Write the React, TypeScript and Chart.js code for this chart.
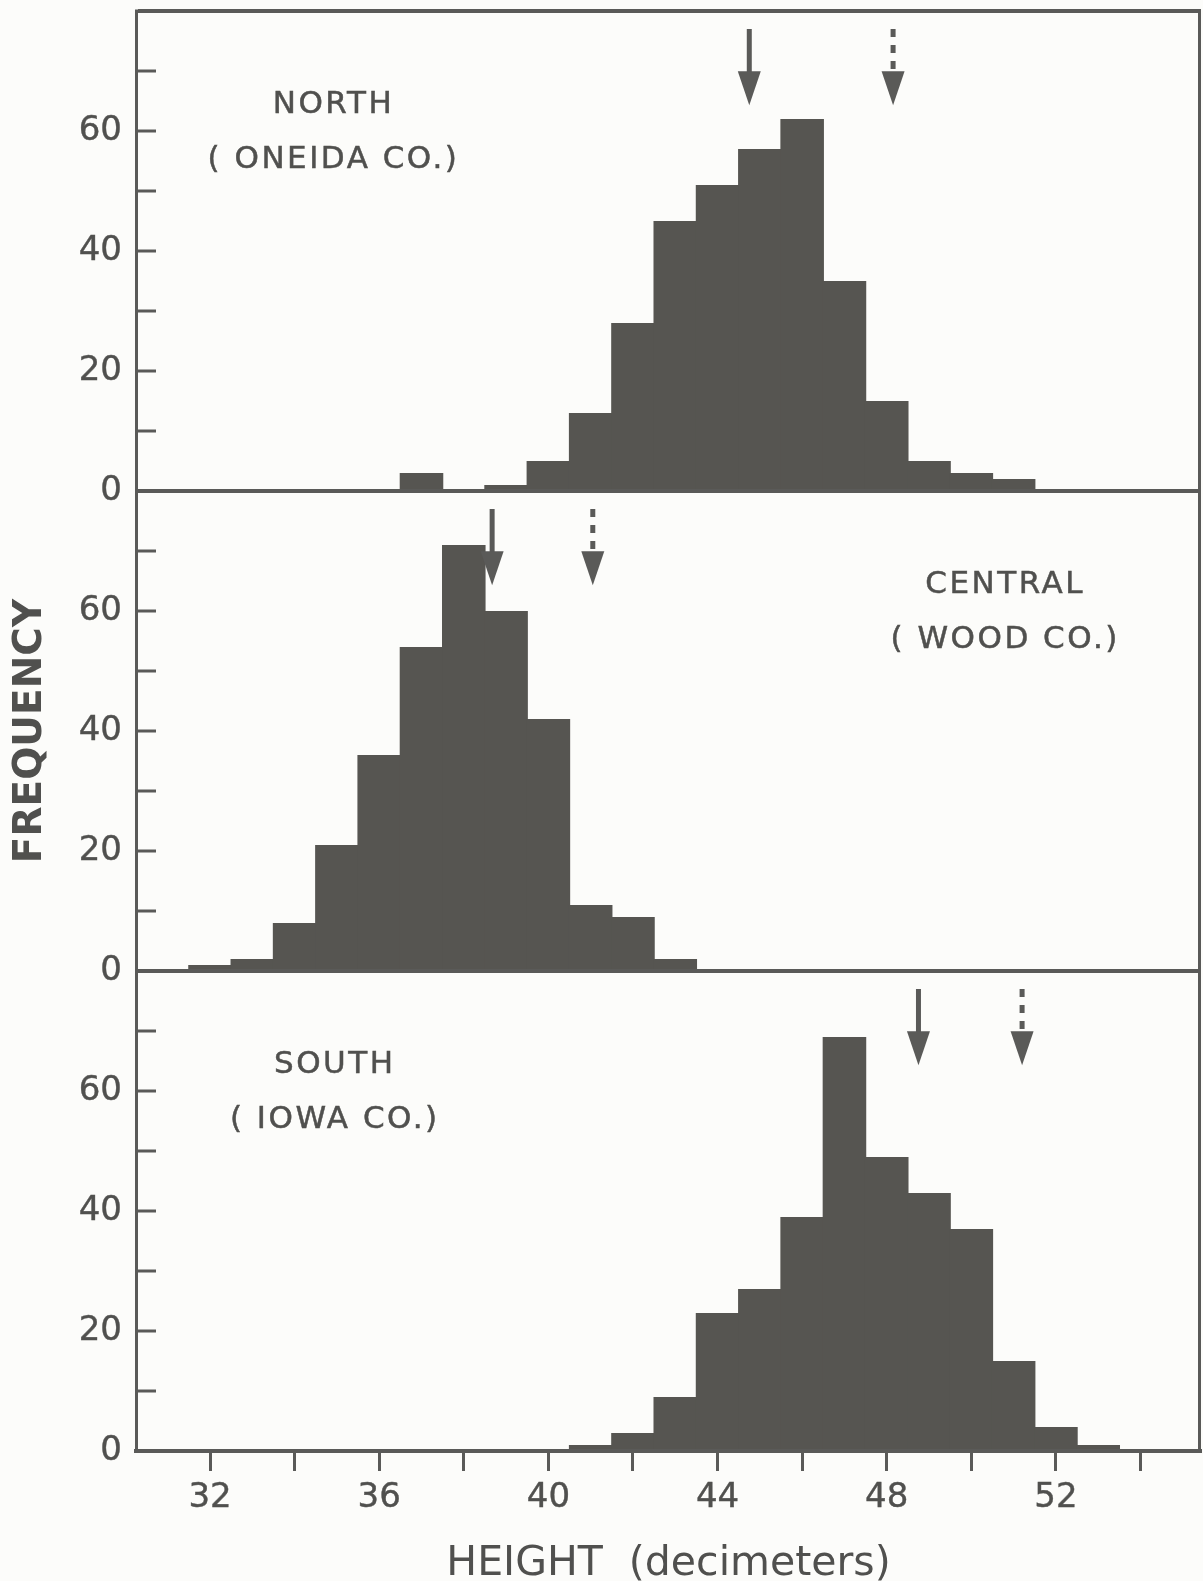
import React, { useEffect, useRef } from 'react';
import { Chart, registerables } from 'chart.js';

Chart.register(...registerables);

// ---------------- data ----------------
const bins = [31, 32, 33, 34, 35, 36, 37, 38, 39, 40, 41, 42, 43, 44, 45, 46, 47, 48, 49, 50, 51, 52, 53, 54];
const northFreq = [0, 0, 0, 0, 0, 0, 3, 0, 1, 5, 13, 28, 45, 51, 57, 62, 35, 15, 5, 3, 2, 0, 0, 0];
const centralFreq = [0, 1, 2, 8, 21, 36, 54, 71, 60, 42, 11, 9, 2, 0, 0, 0, 0, 0, 0, 0, 0, 0, 0, 0];
const southFreq = [0, 0, 0, 0, 0, 0, 0, 0, 0, 0, 1, 3, 9, 23, 27, 39, 69, 49, 43, 37, 15, 4, 1, 0];

// arrows: [solid, dashed] positions on the height axis
const northArrows = [44.75, 48.15];
const centralArrows = [38.67, 41.05];
const southArrows = [48.75, 51.2];

const xTickValues = [32, 34, 36, 38, 40, 42, 44, 46, 48, 50, 52, 54];
const xTickLabels = [32, 36, 40, 44, 48, 52];
const yTickValues = [0, 10, 20, 30, 40, 50, 60, 70, 80];
const yTickLabels = [0, 20, 40, 60];

const panelNames = ['NORTH', 'CENTRAL', 'SOUTH'];
const panelCounties = ['( ONEIDA CO.)', '( WOOD CO.)', '( IOWA CO.)'];

const xTitle = 'HEIGHT  (decimeters)';
const yTitle = 'FREQUENCY';

// ---------------- styles ----------------
const FONT = 'DejaVu Sans';
const TEXT = '#50504e';
const LINE = '#5a5a58';
const BAR = '#565551';
const BG = '#fcfcfa';

const X_MIN = 30.25;
const X_MAX = 55.43;
const Y_MAX = 80;
const ARROW_TOP = 77;
const ARROW_TIP = 64.3;
const NAME_Y = 64.3;
const COUNTY_Y = 55.2;
const labelAnchorX = [34.92, 50.8, 34.95];

const panelAxes = ['yN', 'yC', 'yS'];
const panelArrows = [northArrows, centralArrows, southArrows];

function drawArrow(ctx: CanvasRenderingContext2D, x: number, yTop: number, yTip: number, dashed: boolean) {
  const headH = 34;
  const headW = 23;
  ctx.save();
  ctx.strokeStyle = LINE;
  ctx.fillStyle = LINE;
  ctx.lineWidth = 5;
  ctx.lineCap = 'butt';
  ctx.setLineDash(dashed ? [8, 8] : []);
  ctx.beginPath();
  ctx.moveTo(x, yTop);
  ctx.lineTo(x, yTip - headH + 2);
  ctx.stroke();
  ctx.setLineDash([]);
  ctx.beginPath();
  ctx.moveTo(x - headW / 2, yTip - headH);
  ctx.lineTo(x + headW / 2, yTip - headH);
  ctx.lineTo(x, yTip);
  ctx.closePath();
  ctx.fill();
  ctx.restore();
}

const overlayPlugin = {
  id: 'overlay',
  afterDatasetsDraw(chart: any) {
    const ctx: CanvasRenderingContext2D = chart.ctx;
    const xs = chart.scales.x;
    const { top, bottom, right } = chart.chartArea;
    ctx.save();
    // right frame line
    ctx.strokeStyle = LINE;
    ctx.lineWidth = 3;
    ctx.beginPath();
    ctx.moveTo(right - 1.5, top - 2);
    ctx.lineTo(right - 1.5, bottom);
    ctx.stroke();

    panelAxes.forEach((axisId, i) => {
      const ys = chart.scales[axisId];
      panelArrows[i].forEach((v, j) => {
        drawArrow(ctx, xs.getPixelForValue(v), ys.getPixelForValue(ARROW_TOP), ys.getPixelForValue(ARROW_TIP), j === 1);
      });
      ctx.fillStyle = TEXT;
      ctx.strokeStyle = TEXT;
      ctx.lineWidth = 0.5;
      ctx.textAlign = 'center';
      ctx.textBaseline = 'middle';
      ctx.font = `31px "${FONT}"`;
      (ctx as any).letterSpacing = '2.5px';
      const cx = xs.getPixelForValue(labelAnchorX[i]);
      const y1 = ys.getPixelForValue(NAME_Y);
      const y2 = ys.getPixelForValue(COUNTY_Y);
      ctx.fillText(panelNames[i], cx, y1);
      ctx.strokeText(panelNames[i], cx, y1);
      ctx.fillText(panelCounties[i], cx, y2);
      ctx.strokeText(panelCounties[i], cx, y2);
      (ctx as any).letterSpacing = '0px';
    });
    ctx.restore();
  },
};

function makeYAxis(isTop: boolean, withTitle: boolean) {
  return {
    type: 'linear',
    position: 'left',
    stack: 'freq',
    stackWeight: 1,
    min: 0,
    max: Y_MAX,
    afterBuildTicks: (s: any) => {
      s.ticks = yTickValues.map((v) => ({ value: v }));
    },
    afterFit: (s: any) => {
      s.width = 136;
      s.paddingTop = 0;
      s.paddingBottom = 0;
    },
    ticks: {
      autoSkip: false,
      padding: 34,
      color: TEXT,
      textStrokeColor: TEXT,
      textStrokeWidth: 0.4,
      font: { family: FONT, size: 34 },
      callback: (v: number) => (yTickLabels.includes(v) ? String(v) : ''),
    },
    grid: {
      drawOnChartArea: true,
      drawTicks: true,
      tickLength: -20,
      tickWidth: 3,
      tickColor: LINE,
      color: (c: any) =>
        c.tick && (c.tick.value === 0 || (isTop && c.tick.value === Y_MAX)) ? LINE : 'rgba(0,0,0,0)',
      lineWidth: (c: any) => (c.tick && (c.tick.value === 0 || (isTop && c.tick.value === Y_MAX)) ? 4 : 0),
    },
    border: { display: true, color: LINE, width: 3 },
    title: withTitle
      ? {
          display: true,
          text: yTitle,
          color: TEXT,
          font: { family: FONT, size: 39, weight: 'bold' },
          padding: { top: 7, bottom: 0 },
        }
      : { display: false },
  };
}

function dataset(freq: number[], axisId: string) {
  return {
    type: 'bar',
    data: freq.map((f, i) => ({ x: bins[i], y: f })),
    yAxisID: axisId,
    backgroundColor: BAR,
    borderWidth: 0,
    barPercentage: 1.03,
    categoryPercentage: 1,
    grouped: false,
  };
}

export default function App() {
  const canvasRef = useRef<HTMLCanvasElement | null>(null);

  useEffect(() => {
    document.body.style.margin = '0';
    document.body.style.background = BG;
    const canvas = canvasRef.current;
    if (!canvas) return;
    const chart = new Chart(canvas, {
      type: 'bar',
      data: {
        datasets: [dataset(northFreq, 'yN'), dataset(centralFreq, 'yC'), dataset(southFreq, 'yS')] as any,
      },
      options: {
        animation: false,
        responsive: false,
        devicePixelRatio: 1,
        layout: { padding: { top: 11, right: 2, left: 0, bottom: 0 } },
        plugins: { legend: { display: false }, tooltip: { enabled: false } },
        scales: {
          x: {
            type: 'linear',
            position: 'bottom',
            offset: false,
            min: X_MIN,
            max: X_MAX,
            afterBuildTicks: (s: any) => {
              s.ticks = xTickValues.map((v) => ({ value: v }));
            },
            afterFit: (s: any) => {
              s.height = 130;
              s.paddingLeft = 0;
              s.paddingRight = 0;
            },
            ticks: {
              autoSkip: false,
              maxRotation: 0,
              padding: 7,
              color: TEXT,
              textStrokeColor: TEXT,
              textStrokeWidth: 0.4,
              font: { family: FONT, size: 34 },
              callback: (v: number) => (xTickLabels.includes(v) ? String(v) : ''),
            },
            grid: {
              offset: false,
              drawOnChartArea: false,
              drawTicks: true,
              tickLength: 20,
              tickWidth: 3,
              tickColor: LINE,
              color: LINE,
            },
            border: { display: true, color: LINE, width: 4 },
            title: {
              display: true,
              text: xTitle,
              color: TEXT,
              font: { family: FONT, size: 41 },
              padding: { top: 0, bottom: -8 },
            },
          },
          // stacked axes: the last defined is placed on top
          yS: makeYAxis(false, false),
          yC: makeYAxis(false, true),
          yN: makeYAxis(true, false),
        } as any,
      },
      plugins: [overlayPlugin],
    } as any);
    return () => chart.destroy();
  }, []);

  return (
    <div style={{ position: 'absolute', left: 0, top: 0, width: 1203, height: 1581, background: BG }}>
      <canvas ref={canvasRef} width={1203} height={1581} style={{ display: 'block', width: 1203, height: 1581 }} />
    </div>
  );
}
